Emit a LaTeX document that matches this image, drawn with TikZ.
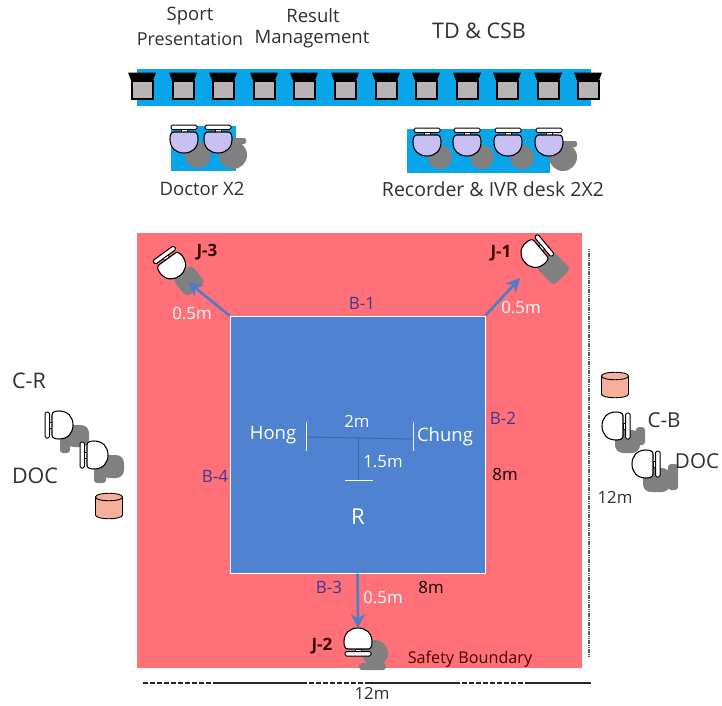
\documentclass[tikz,border=0pt]{standalone}
\usepackage{fontspec}
\setmainfont{Open Sans}
\usetikzlibrary{arrows.meta}

\definecolor{skyblue}{HTML}{0AA5E8}
\definecolor{safetyred}{HTML}{FF7078}
\definecolor{fieldblue}{HTML}{4F82D0}
\definecolor{arrowblue}{HTML}{4F7CC4}
\definecolor{tblue}{HTML}{3A68AE}
\definecolor{lavender}{HTML}{C8C0F2}
\definecolor{shadowgray}{HTML}{808080}
\definecolor{screengray}{HTML}{B8B4B4}
\definecolor{bucket}{HTML}{F5B09C}
\definecolor{boardname}{HTML}{3C3A8E}
\definecolor{inktext}{HTML}{303030}

\tikzset{
  label/.style={text=inktext, inner sep=0pt, font=\fontsize{18.5}{20}\selectfont},
  biglabel/.style={label, font=\fontsize{21.5}{24}\selectfont},
  smalllabel/.style={label, font=\fontsize{16.8}{19}\selectfont},
  fieldlabel/.style={label, text=white},
  fieldsmall/.style={smalllabel, text=white},
  sidename/.style={label, text=boardname, font=\fontsize{17}{19}\selectfont},
  judgename/.style={label, text=black!80!red, font=\fontsize{17}{19}\selectfont\bfseries},
  shadow/.style={fill=shadowgray},
  toparrow/.style={draw=arrowblue, line width=2.6pt, -{Stealth[length=14pt, width=14pt]}},
  monitor/.pic={
    \fill[black] (-14,-13) -- (14,-13) -- (11,-5) -- (-11,-5) -- cycle;
    \draw[line width=2pt, fill=screengray] (-10.5,-5) rectangle (10.5,13);
  },
  seat/.pic={
    \draw[line width=1pt, fill=white, rounded corners=1.5pt] (-13,-17) rectangle (13,-12.5);
    \draw[line width=0.8pt, fill=white] (-3,-12.5) rectangle (3,-10);
    \draw[line width=1.1pt, pic actions] (-10,-10) -- (10,-10) .. controls (13,-10) and (14,-7) .. (14,-3) .. controls (14,6) and (8,11) .. (0,11) .. controls (-8,11) and (-14,6) .. (-14,-3) .. controls (-14,-7) and (-13,-10) .. (-10,-10) -- cycle;
  },
  bucketpic/.pic={
    \draw[line width=0.9pt, fill=bucket] (-13.5,-9) -- (-13.5,9) .. controls (-13.5,14) and (13.5,14) .. (13.5,9) -- (13.5,-9) .. controls (13.5,-14) and (-13.5,-14) .. (-13.5,-9) -- cycle;
    \draw[line width=0.9pt] (-13.5,-9) .. controls (-13.5,-4) and (13.5,-4) .. (13.5,-9);
  }
}

\begin{document}
\begin{tikzpicture}[x=1pt, y=-1pt]
  \useasboundingbox (0,0) rectangle (722,705);

  % officials table
  \node[fill=skyblue, minimum width=454pt, minimum height=37pt, inner sep=0pt] (table) at (364,87.5) {};
  \pic (m1) at (142,85.5) {monitor};
  \pic (m2) at (183,85.5) {monitor};
  \pic (m3) at (223,85.5) {monitor};
  \pic (m4) at (264,85.5) {monitor};
  \pic (m5) at (304,85.5) {monitor};
  \pic (m6) at (345,85.5) {monitor};
  \pic (m7) at (386,85.5) {monitor};
  \pic (m8) at (426,85.5) {monitor};
  \pic (m9) at (467,85.5) {monitor};
  \pic (m10) at (507,85.5) {monitor};
  \pic (m11) at (548,85.5) {monitor};
  \pic (m12) at (588,85.5) {monitor};

  % desks
  \node[fill=skyblue, minimum width=65pt, minimum height=45pt, inner sep=0pt] (doctordesk) at (203.5,148.5) {};
  \node[fill=skyblue, minimum width=143pt, minimum height=44pt, inner sep=0pt] (recorderdesk) at (478.5,151) {};
  \fill[shadow] (198,155) circle (13);
  \fill[shadow] (233,155) circle (14);
  \fill[shadow, rounded corners=2pt] (228,138) rectangle (246,144);
  \fill[shadow] (440,157) circle (12);
  \fill[shadow] (482,157) circle (12);
  \fill[shadow] (522,157) circle (12);
  \fill[shadow] (563,157) circle (14);
  \fill[shadow, rounded corners=2pt] (558,141) rectangle (577,147);
  \pic[fill=lavender] (doc1) at (184,142) {seat};
  \pic[fill=lavender] (doc2) at (218,142) {seat};
  \pic[fill=lavender] (rec1) at (427,145) {seat};
  \pic[fill=lavender] (rec2) at (467,145) {seat};
  \pic[fill=lavender] (rec3) at (508,145) {seat};
  \pic[fill=lavender] (rec4) at (549,145) {seat};

  % field
  \node[fill=safetyred, minimum width=445pt, minimum height=435pt, inner sep=0pt] (safety) at (359.5,450.5) {};
  \node[draw=white, line width=1pt, fill=fieldblue, minimum width=255pt, minimum height=257pt, inner sep=0pt] (field) at (357.5,444.5) {};

  % shadows of judges and coaches
  \fill[shadow, rounded corners=4pt, rotate around={40:(189,281)}] (177,270) rectangle (201,292);
  \fill[shadow, rounded corners=4pt, rotate around={-45:(553,268)}] (540,256) rectangle (566,280);
  \fill[shadow] (375,653) circle (13);
  \fill[shadow, rounded corners=3pt] (359,663) rectangle (386,670);
  \fill[shadow, rounded corners=8pt] (66,425) rectangle (89,447);
  \fill[shadow, rounded corners=3pt] (60,438) rectangle (70,453);
  \fill[shadow, rounded corners=8pt] (101,455) rectangle (124,478);
  \fill[shadow, rounded corners=3pt] (94,468) rectangle (106,483);
  \fill[shadow, rounded corners=8pt] (615,430) rectangle (640,453);
  \fill[shadow, rounded corners=3pt] (636,427) rectangle (645,445);
  \fill[shadow, rounded corners=8pt] (643,468) rectangle (670,492);
  \fill[shadow, rounded corners=3pt] (668,464) rectangle (678,490);

  % tips of the arrows
  \coordinate (j3tip) at (188,282);
  \coordinate (j1tip) at (520,278);
  \coordinate (j2tip) at (358,628);
  \draw[toparrow] (field.north west) to (j3tip);
  \draw[toparrow] (field.north east) to (j1tip);
  \draw[toparrow] (field.south) to (j2tip);

  % judges and coaches
  \pic[fill=white, rotate=36] (j3) at (173,267) {seat};
  \pic[fill=white, rotate=-50] (j1) at (533,255) {seat};
  \pic[fill=white, rotate=180] (j2) at (358,639) {seat};
  \pic[fill=white, rotate=90] (cr) at (62,425) {seat};
  \pic[fill=white, rotate=90] (docl) at (97,455) {seat};
  \pic[fill=white, rotate=-90] (cb) at (613,426) {seat};
  \pic[fill=white, rotate=-90] (docr) at (643,464) {seat};
  \pic (bucketl) at (109,506) {bucketpic};
  \pic (bucketr) at (615,385) {bucketpic};

  % positions of the referees
  \coordinate (hong) at (306,437);
  \coordinate (chung) at (413,439);
  \coordinate (mid) at (358,438);
  \coordinate (ref) at (358,480);
  \draw[tblue, line width=1pt] (hong) to (chung);
  \draw[tblue, line width=1pt] (mid) to (ref);
  \draw[white, line width=1pt] (306,422) to (306,451);
  \draw[white, line width=1pt] (413,422) to (413,451);
  \draw[white, line width=1pt] (345,480) to (373,480);

  % dimension lines
  \draw[black!65, line width=1.6pt, dash pattern=on 1.2pt off 0.6pt] (589,249) to (589,656);
  \draw[black!85, line width=1.2pt, dash pattern=on 5pt off 2pt] (143,683) to (214,683);
  \draw[black!85, line width=1.2pt] (214,683) to (302,683);
  \draw[black!85, line width=1.2pt, dash pattern=on 5pt off 2pt] (302,683) to (370,683);
  \draw[black!85, line width=1.2pt] (370,683) to (455,683);
  \draw[black!85, line width=1.2pt, dash pattern=on 5pt off 2pt] (455,683) to (530,683);
  \draw[black!85, line width=1.2pt] (530,683) to (591,683);

  % names
  \node[label] (sport) at (190,16) {Sport};
  \node[label, font=\fontsize{17.9}{20}\selectfont] (presentation) at (190,39) {Presentation};
  \node[label] (result) at (313,16) {Result};
  \node[label] (management) at (312,39) {Management};
  \node[biglabel] (tdcsb) at (479,31) {TD \& CSB};
  \node[label] (doctor) at (202,189) {Doctor X2};
  \node[label, font=\fontsize{19.5}{22}\selectfont] (recorder) at (493,189) {Recorder \& IVR desk 2X2};
  \node[judgename] (j3name) at (207,252) {J-3};
  \node[judgename] (j1name) at (501,253) {J-1};
  \node[judgename] (j2name) at (322,646) {J-2};
  \node[fieldsmall] (dist3) at (192,314) {0.5m};
  \node[fieldsmall] (dist1) at (521,308) {0.5m};
  \node[fieldsmall] (dist2) at (383,598) {0.5m};
  \node[sidename] (b1) at (362,303) {B-1};
  \node[sidename] (b2) at (503,418) {B-2};
  \node[sidename] (b3) at (329,587) {B-3};
  \node[sidename] (b4) at (215,476) {B-4};
  \node[smalllabel, text=black] (side1) at (505,474) {8m};
  \node[smalllabel, text=black] (side2) at (431,587) {8m};
  \node[smalllabel] (width) at (615,497) {12m};
  \node[smalllabel] (length) at (372,693) {12m};
  \node[label, text=black!70!red, font=\fontsize{16.2}{18}\selectfont] (boundary) at (470,659) {Safety Boundary};
  \node[biglabel] (crname) at (29,381) {C-R};
  \node[biglabel] (doclname) at (35,476) {DOC};
  \node[biglabel, font=\fontsize{20.6}{23}\selectfont] (cbname) at (664,420) {C-B};
  \node[biglabel, font=\fontsize{20.6}{23}\selectfont] (docrname) at (697,461) {DOC};
  \node[fieldlabel] (hongname) at (273,435) {Hong};
  \node[fieldlabel] (chungname) at (445,437) {Chung};
  \node[fieldsmall] (two) at (357,421) {2m};
  \node[fieldsmall] (onehalf) at (383,462) {1.5m};
  \node[fieldlabel, font=\fontsize{22}{24}\selectfont] (rname) at (358,517) {R};

\end{tikzpicture}
\end{document}
